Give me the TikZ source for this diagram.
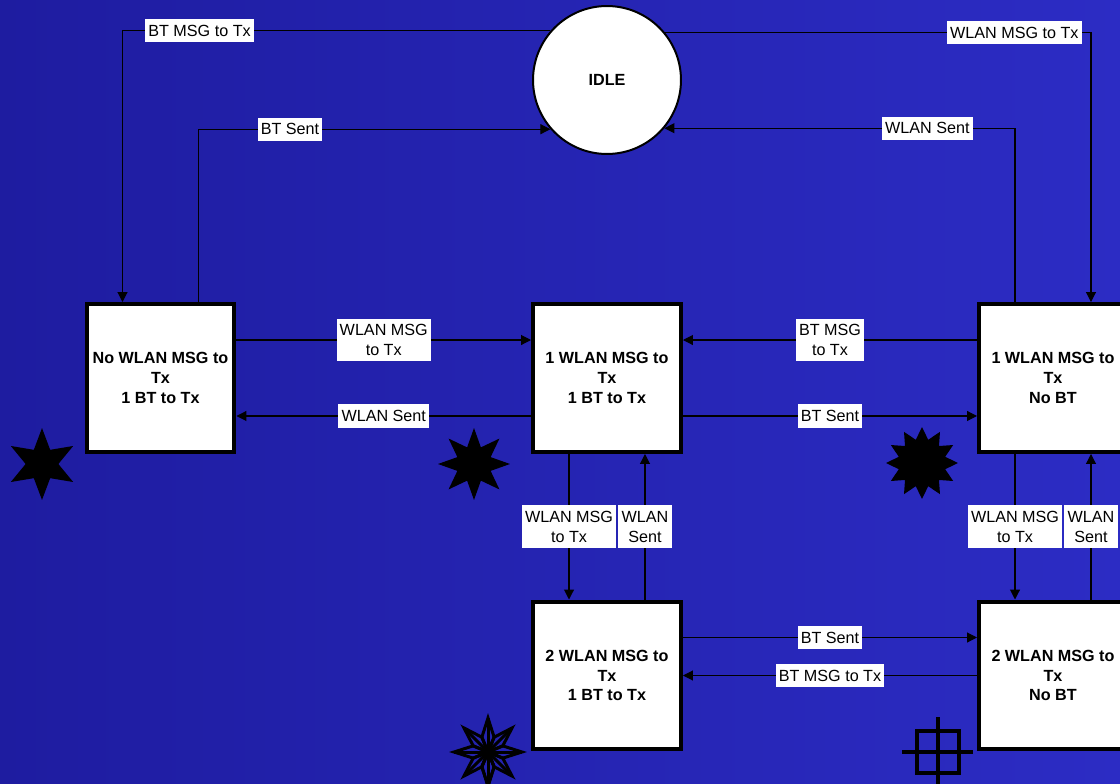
\documentclass[tikz,border=0pt]{standalone}
\usepackage{fontspec}
\setmainfont{Liberation Sans}
\usetikzlibrary{arrows.meta,shapes.geometric,calc}
\definecolor{bgleft}{RGB}{30,28,160}
\definecolor{bgmid}{RGB}{53,51,210}
\definecolor{bgright}{RGB}{44,44,196}
\tikzset{
  state/.style={draw, rectangle, fill=white, line width=0.08cm, minimum width=2.96cm, minimum height=2.96cm, align=center, font=\fontsize{9.2}{11.3}\selectfont\bfseries, inner sep=1pt},
  idlest/.style={draw, circle, fill=white, line width=0.04cm, minimum size=2.96cm, font=\fontsize{9.2}{11.3}\selectfont\bfseries},
  lbl/.style={fill=white, inner xsep=1.8pt, inner ysep=3.3pt, align=center, font=\fontsize{9.2}{11.3}\selectfont},
  arr/.style={-{Triangle[length=0.2cm, width=0.2cm]}, line width=0.6pt},
  badge/.style={star, fill=black, draw=none, inner sep=0pt, minimum size=1.44cm},
}
\begin{document}
\begin{tikzpicture}[x=0.02cm, y=-0.02cm]

% Page and backdrop
\useasboundingbox (0,0) rectangle (1120,784);
\clip (0,0) rectangle (1120,784);
\shade[left color=bgleft, middle color=bgmid, right color=bgright] (0,0) rectangle (1120,784);

% States
\node[idlest] (idle) at (607,80) {IDLE};
\foreach \nm/\pos/\txt in {
  nowlan/{(160.5,378)}/{No WLAN MSG to\\Tx\\1 BT to Tx},
  onewlanbt/{(607,378)}/{1 WLAN MSG to\\Tx\\1 BT to Tx},
  onewlan/{(1053,378)}/{1 WLAN MSG to\\Tx\\No BT},
  twowlanbt/{(607,675.5)}/{2 WLAN MSG to\\Tx\\1 BT to Tx},
  twowlan/{(1053,675.5)}/{2 WLAN MSG to\\Tx\\No BT}} {
  \node[state] (\nm) at \pos {\txt};
}

% Quarter points on the box sides
\foreach \nm in {nowlan,onewlanbt,onewlan,twowlanbt,twowlan} {
  \coordinate (\nm-n1) at ($(\nm.north west)!.25!(\nm.north east)$);
  \coordinate (\nm-n3) at ($(\nm.north west)!.75!(\nm.north east)$);
  \coordinate (\nm-s1) at ($(\nm.south west)!.25!(\nm.south east)$);
  \coordinate (\nm-s3) at ($(\nm.south west)!.75!(\nm.south east)$);
  \coordinate (\nm-w1) at ($(\nm.north west)!.25!(\nm.south west)$);
  \coordinate (\nm-w3) at ($(\nm.north west)!.75!(\nm.south west)$);
  \coordinate (\nm-e1) at ($(\nm.north east)!.25!(\nm.south east)$);
  \coordinate (\nm-e3) at ($(\nm.north east)!.75!(\nm.south east)$);
}

% To and from IDLE
\draw[arr] (idle.139) -| (nowlan-n1) node[lbl, pos=.41] (l1) {BT MSG to Tx};
\draw[arr] (nowlan-n3) |- (idle.-139) node[lbl, pos=.63] (l2) {BT Sent};
\draw[arr] (idle.39) -| (onewlan-n3) node[lbl, pos=.41] (l3) {WLAN MSG to Tx};
\draw[arr] (onewlan-n1) |- (idle.-40) node[lbl, pos=.625] (l4) {WLAN Sent};

% Between the upper states
\draw[arr] (nowlan-e1) -- (onewlanbt-w1) node[lbl, midway] (l5) {WLAN MSG\\to Tx};
\draw[arr] (onewlanbt-w3) -- (nowlan-e3) node[lbl, midway] (l6) {WLAN Sent};
\draw[arr] (onewlan-w1) -- (onewlanbt-e1) node[lbl, midway] (l7) {BT MSG\\to Tx};
\draw[arr] (onewlanbt-e3) -- (onewlan-w3) node[lbl, midway] (l8) {BT Sent};

% Up and down
\draw[arr] (onewlanbt-s1) -- (twowlanbt-n1) node[lbl, midway] (l9) {WLAN MSG\\to Tx};
\draw[arr] (twowlanbt-n3) -- (onewlanbt-s3) node[lbl, midway] (l10) {WLAN\\Sent};
\draw[arr] (onewlan-s1) -- (twowlan-n1) node[lbl, midway] (l11) {WLAN MSG\\to Tx};
\draw[arr] (twowlan-n3) -- (onewlan-s3) node[lbl, midway] (l12) {WLAN\\Sent};

% Lower row
\draw[arr] (twowlanbt-e1) -- (twowlan-w1) node[lbl, midway] (l13) {BT Sent};
\draw[arr] (twowlan.west) -- (twowlanbt.east) node[lbl, midway] (l14) {BT MSG to Tx};

% Stars
\node[badge, star points=6, star point ratio=2.2] (sixstar) at (42,464) {};
\node[badge, star points=8, star point ratio=2] (eightstar) at (474,464) {};
\node[badge, star points=12, star point ratio=1.5] (twelvestar) at (922,463) {};

% Compass star
\begin{scope}[shift={(488,752)}, line width=0.06cm, line join=miter]
  \foreach \a in {90,135,...,450} {
    \draw (0,0) -- (\a-22.5:16) -- (\a:34) -- (\a+22.5:16) -- cycle;
    \draw (0,0) -- (\a:34);
  }
\end{scope}

% Cross-hair
\draw[line width=0.08cm] (917,731) rectangle (959,773);
\draw[line width=0.08cm] (902,752) -- (973,752);
\draw[line width=0.08cm] (938,717) -- (938,790);

\end{tikzpicture}
\end{document}
